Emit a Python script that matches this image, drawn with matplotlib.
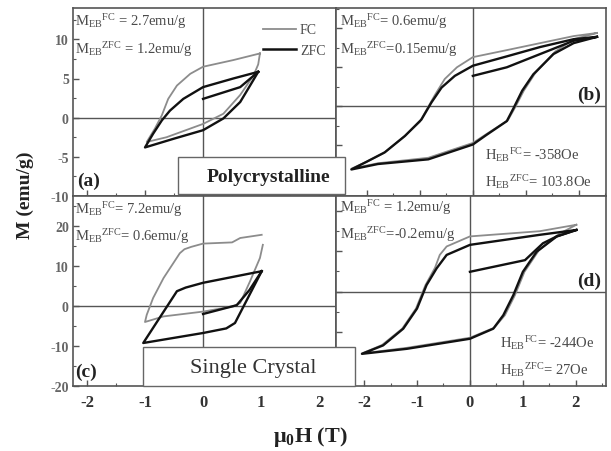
import matplotlib
matplotlib.use('Agg')
import matplotlib.pyplot as plt
from matplotlib.patches import Rectangle
from matplotlib.lines import Line2D
from matplotlib.ticker import MultipleLocator

plt.rcParams['font.family'] = 'Liberation Serif'
plt.rcParams['mathtext.fontset'] = 'custom'
plt.rcParams['mathtext.rm'] = 'Liberation Serif'
plt.rcParams['mathtext.it'] = 'Liberation Serif:italic'
plt.rcParams['mathtext.bf'] = 'Liberation Serif:bold'
plt.rcParams['axes.unicode_minus'] = False

# ---- (a) polycrystalline, +/-1 T ----
a_fc_h = [0.98, 0.52, 0.0, -0.22, -0.45, -0.6, -0.71, -0.83, -0.97,
          -0.63, 0.0, 0.35, 0.64, 0.87, 0.95, 0.98]
a_fc_m = [8.2, 7.35, 6.5, 5.6, 4.1, 2.4, 0.3, -1.4, -3.1,
          -2.5, -0.8, 0.5, 2.9, 5.4, 6.8, 8.2]
a_zfc_h = [0.95, 0.52, 0.0, -0.34, -0.57, -0.71, -0.86, -1.0,
           -0.51, 0.0, 0.35, 0.64, 0.81, 0.95]
a_zfc_m = [5.85, 5.0, 3.9, 2.4, 0.9, -0.35, -2.05, -3.8,
           -2.7, -1.6, -0.1, 2.0, 4.1, 5.85]
a_zfc_init_h = [0.0, 0.64, 0.95]
a_zfc_init_m = [2.4, 3.9, 5.85]

# ---- (b) polycrystalline, +/-2 T ----
b_fc_h = [2.34, 1.9, 1.27, 0.64, 0.0, -0.3, -0.53, -0.72, -0.86, -1.0, -1.3, -1.68, -2.0, -2.29,
          -1.79, -0.84, 0.0, 0.27, 0.66, 0.8, 0.96, 1.17, 1.55, 1.9, 2.34]
b_fc_m = [9.4, 9.0, 8.1, 7.2, 6.3, 5.0, 3.5, 1.4, -0.3, -2.0, -3.9, -6.0, -7.1, -8.0,
          -7.3, -6.6, -4.7, -3.5, -1.8, -0.1, 2.0, 4.2, 7.0, 8.6, 9.4]
b_zfc_h = [2.34, 1.9, 1.27, 0.64, 0.0, -0.34, -0.59, -0.78, -0.97, -1.28, -1.66, -2.0, -2.29,
           -1.79, -0.84, 0.0, 0.25, 0.64, 0.77, 0.93, 1.14, 1.52, 1.9, 2.34]
b_zfc_m = [8.9, 8.6, 7.6, 6.4, 5.2, 3.9, 2.4, 0.5, -1.7, -3.8, -5.9, -7.1, -8.1,
           -7.4, -6.8, -4.9, -3.7, -1.9, -0.2, 2.0, 4.1, 6.7, 8.1, 8.9]
b_zfc_init_h = [0.0, 0.64, 1.27, 1.9, 2.34]
b_zfc_init_m = [3.9, 5.0, 6.7, 8.4, 8.9]

# ---- (c) single crystal, +/-1 T ----
c_fc_h = [1.01, 0.64, 0.5, 0.0, -0.2, -0.32, -0.4, -0.68, -0.86, -0.97, -1.0,
          -0.68, 0.0, 0.52, 0.64, 0.81, 0.98, 1.03]
c_fc_m = [17.8, 17.0, 15.9, 15.6, 14.8, 14.2, 13.2, 7.0, 2.0, -2.2, -4.0,
          -2.6, -1.4, -0.1, 0.75, 6.2, 12.0, 15.3]
c_zfc_h = [1.01, 0.0, -0.3, -0.45, -1.03, 0.0, 0.4, 0.55, 1.01]
c_zfc_m = [8.7, 5.8, 4.6, 3.7, -9.25, -6.75, -5.6, -4.25, 8.7]
c_zfc_init_h = [0.0, 0.58, 0.8, 1.01]
c_zfc_init_m = [-2.0, 0.2, 4.0, 8.7]

# ---- (d) single crystal, +/-2 T ----
d_fc_h = [2.01, 1.32, 0.0, -0.44, -0.57, -0.66, -0.84, -1.02, -1.28, -1.66, -2.04,
          -1.19, 0.0, 0.46, 0.66, 0.85, 1.03, 1.3, 1.68, 2.01]
d_fc_m = [16.6, 15.0, 13.7, 11.2, 9.1, 5.9, 1.6, -4.25, -9.25, -13.3, -15.4,
          -14.0, -11.5, -9.0, -5.9, -0.9, 4.9, 10.2, 14.3, 16.6]
d_zfc_h = [2.01, 1.32, 0.0, -0.44, -0.63, -0.82, -1.0, -1.26, -1.64, -2.04,
           -1.19, 0.0, 0.44, 0.63, 0.82, 1.0, 1.26, 1.64, 2.01]
d_zfc_m = [15.3, 14.1, 11.6, 9.1, 5.75, 1.6, -4.25, -9.25, -13.4, -15.5,
           -14.25, -11.75, -9.25, -5.9, -0.9, 4.9, 9.9, 13.7, 15.3]
d_zfc_init_h = [0.0, 1.04, 1.38, 1.64, 2.01]
d_zfc_init_m = [4.9, 7.8, 12.0, 13.7, 15.3]

FC_COL = '#8c8c8c'
ZFC_COL = '#111111'
FRAME = '#555555'
TXT = '#4a4a4a'

W, H = 611, 452
def fx(px): return px / W
def fy(py): return 1 - py / H

fig = plt.figure(figsize=(6.11, 4.52), dpi=100)
ax_a = fig.add_axes([fx(73), fy(197), fx(336) - fx(73), fy(9) - fy(197)])
ax_b = fig.add_axes([fx(336), fy(197), fx(606) - fx(336), fy(9) - fy(197)])
ax_c = fig.add_axes([fx(73), fy(387), fx(336) - fx(73), fy(197) - fy(387)])
ax_d = fig.add_axes([fx(336), fy(387), fx(606) - fx(336), fy(197) - fy(387)])

panels = [
    (ax_a, a_fc_h, a_fc_m, a_zfc_h, a_zfc_m, a_zfc_init_h, a_zfc_init_m, (-2.24, 2.29), (-10, 14), 5),
    (ax_b, b_fc_h, b_fc_m, b_zfc_h, b_zfc_m, b_zfc_init_h, b_zfc_init_m, (-2.58, 2.51), (-11.5, 12.6), 5),
    (ax_c, c_fc_h, c_fc_m, c_zfc_h, c_zfc_m, c_zfc_init_h, c_zfc_init_m, (-2.24, 2.29), (-20, 27.5), 10),
    (ax_d, d_fc_h, d_fc_m, d_zfc_h, d_zfc_m, d_zfc_init_h, d_zfc_init_m, (-2.53, 2.57), (-23.5, 23.75), 10),
]

for ax, fh, fm, zh, zm, ih, im, xl, yl, ystep in panels:
    ax.axhline(0, color=FRAME, lw=1.0, zorder=1)
    ax.axvline(0, color=FRAME, lw=1.0, zorder=1)
    ax.plot(fh, fm, color=FC_COL, lw=1.3, zorder=2, solid_joinstyle='round')
    ax.plot(zh, zm, color=ZFC_COL, lw=1.7, zorder=3, solid_joinstyle='round')
    ax.plot(ih, im, color=ZFC_COL, lw=1.7, zorder=3, solid_joinstyle='round')
    ax.set_xlim(*xl)
    ax.set_ylim(*yl)
    ax.xaxis.set_major_locator(MultipleLocator(1))
    ax.xaxis.set_minor_locator(MultipleLocator(0.5))
    ax.yaxis.set_major_locator(MultipleLocator(ystep))
    ax.yaxis.set_minor_locator(MultipleLocator(ystep / 2))
    ax.tick_params(which='both', direction='in', colors=FRAME, labelcolor=TXT)
    ax.tick_params(which='major', length=4, width=1)
    ax.tick_params(which='minor', length=2, width=0.8)
    for s in ax.spines.values():
        s.set_color(FRAME)
        s.set_linewidth(1.2)

for ax in (ax_a, ax_b):
    ax.tick_params(labelbottom=False)
for ax in (ax_b, ax_d):
    ax.tick_params(labelleft=False)
for ax in (ax_a, ax_c):
    ax.tick_params(axis='y', labelsize=10, pad=3, labelcolor='#666666')
    for t in ax.get_yticklabels():
        t.set_fontweight('bold')
for ax in (ax_c, ax_d):
    ax.tick_params(axis='x', labelsize=12, labelcolor='#333333', pad=6)
    for t in ax.get_xticklabels():
        t.set_fontweight('bold')

# legend in (a)
handles = [Line2D([], [], color=FC_COL, lw=1.3), Line2D([], [], color=ZFC_COL, lw=1.8)]
fig.legend(handles, ['FC', 'ZFC'], loc='upper right', bbox_to_anchor=(fx(338), fy(12)),
           frameon=False, fontsize=10, handlelength=2.4, handletextpad=0.3,
           labelspacing=0.55, labelcolor=TXT)

def note(px, py, s, size=10.5, **kw):
    fig.text(fx(px), fy(py), s, fontsize=size, color=TXT, va='center', ha='left', **kw)

note(75, 22, r'M$_{\rm EB}{}^{\rm FC}$ = 2.7emu/g')
note(75, 50, r'M$_{\rm EB}{}^{\rm ZFC}$ = 1.2emu/g')
note(340, 22, r'M$_{\rm EB}{}^{\rm FC}$= 0.6emu/g')
note(340, 50, r'M$_{\rm EB}{}^{\rm ZFC}$=0.15emu/g')
note(485, 155, r'H$_{\rm EB}{}^{\rm FC}$= -358Oe')
note(485, 182, r'H$_{\rm EB}{}^{\rm ZFC}$= 103.8Oe')
note(75, 210, r'M$_{\rm EB}{}^{\rm FC}$= 7.2emu/g')
note(75, 237, r'M$_{\rm EB}{}^{\rm ZFC}$= 0.6emu/g')
note(340, 208, r'M$_{\rm EB}{}^{\rm FC}$ = 1.2emu/g')
note(340, 235, r'M$_{\rm EB}{}^{\rm ZFC}$=-0.2emu/g')
note(500, 343, r'H$_{\rm EB}{}^{\rm FC}$= -244Oe')
note(500, 370, r'H$_{\rm EB}{}^{\rm ZFC}$= 27Oe')

for px, py, s in [(77, 181, '(a)'), (577, 95, '(b)'), (75, 372, '(c)'), (577, 281, '(d)')]:
    fig.text(fx(px), fy(py), s, fontsize=14, fontweight='bold', color='#222222',
             va='center', ha='left')

# sample boxes
fig.add_artist(Rectangle((fx(178), fy(195)), fx(345) - fx(178), fy(158) - fy(195),
                         transform=fig.transFigure, facecolor='white',
                         edgecolor='#666666', lw=1.0, zorder=5))
fig.text(fx(268), fy(177), 'Polycrystalline', fontsize=14, fontweight='bold',
         color='#222222', ha='center', va='center', zorder=6)
fig.add_artist(Rectangle((fx(143), fy(387)), fx(355) - fx(143), fy(348) - fy(387),
                         transform=fig.transFigure, facecolor='white',
                         edgecolor='#666666', lw=1.0, zorder=5))
fig.text(fx(253), fy(368), 'Single Crystal', fontsize=16, color='#333333',
         ha='center', va='center', zorder=6)

fig.text(fx(25), fy(195), 'M (emu/g)', rotation=90, fontsize=14, fontweight='bold',
         color='#222222', ha='center', va='center')
fig.text(fx(310), fy(437), 'μ' + r'$_{\mathbf{0}}$' + 'H (T)', fontsize=16,
         fontweight='bold', color='#222222', ha='center', va='center')

fig.savefig('out.png', dpi=100)
